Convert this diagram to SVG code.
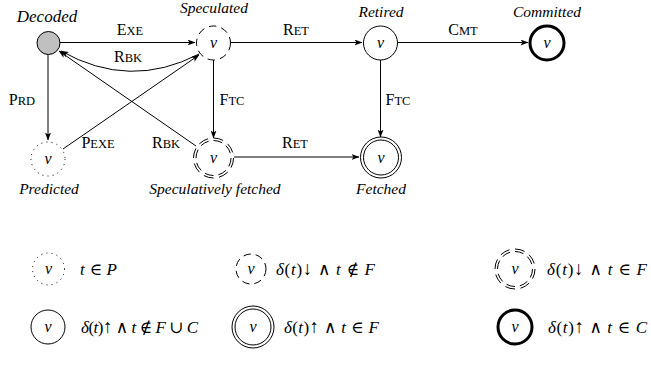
<svg xmlns="http://www.w3.org/2000/svg" width="651" height="366" viewBox="0 0 651 366">
  <style>
    text { font-family: "Liberation Serif", "DejaVu Serif", serif; }
    .node { fill: #fff; stroke: #000; stroke-width: 1; }
    .dashed { stroke-dasharray: 7.5 5; }
    .dotted { stroke-dasharray: 1 4.2; }
    .ddash { fill: none; stroke: #000; stroke-width: 1; stroke-dasharray: 8 4.5; }
    .thick { stroke-width: 3; }
    .edge { fill: none; stroke: #000; stroke-width: 1; }
    .v { font-style: italic; font-size: 16px; text-anchor: middle; }
    .name { font-style: italic; font-size: 15.5px; text-anchor: middle; }
    .lbl { font-size: 16px; text-anchor: middle; }
    .sc { font-size: 12.5px; }
    .math { font-size: 17px; }
    .it { font-style: italic; }
  </style>
  <defs>
    <marker id="arrow" viewBox="0 0 8 6" refX="7.5" refY="3" markerWidth="8" markerHeight="6" markerUnits="userSpaceOnUse" orient="auto">
      <path d="M0,0 L8,3 L0,6 L2,3 z" fill="#000"/>
    </marker>
  </defs>

  <!-- transitions -->
  <g id="edges">
    <line class="edge" x1="60" y1="42.5" x2="195" y2="42.5" marker-end="url(#arrow)"/>
    <path class="edge" d="M199,54 Q130,90 61,51" marker-end="url(#arrow)"/>
    <line class="edge" x1="231" y1="42.5" x2="362" y2="42.5" marker-end="url(#arrow)"/>
    <line class="edge" x1="398" y1="42.5" x2="528" y2="42.5" marker-end="url(#arrow)"/>
    <line class="edge" x1="48" y1="54" x2="48" y2="140" marker-end="url(#arrow)"/>
    <line class="edge" x1="213.5" y1="60" x2="213.5" y2="138" marker-end="url(#arrow)"/>
    <line class="edge" x1="380.5" y1="60" x2="380.5" y2="137" marker-end="url(#arrow)"/>
    <line class="edge" x1="63" y1="149" x2="199" y2="55" marker-end="url(#arrow)"/>
    <line class="edge" x1="196" y1="146" x2="59" y2="51" marker-end="url(#arrow)"/>
    <line class="edge" x1="234" y1="157" x2="359" y2="157" marker-end="url(#arrow)"/>

    <text class="lbl" x="130" y="35">E<tspan class="sc">XE</tspan></text>
    <text class="lbl" x="128" y="62">R<tspan class="sc">BK</tspan></text>
    <text class="lbl" x="296" y="35">R<tspan class="sc">ET</tspan></text>
    <text class="lbl" x="463" y="35">C<tspan class="sc">MT</tspan></text>
    <text class="lbl" x="22" y="105">P<tspan class="sc">RD</tspan></text>
    <text class="lbl" x="232" y="105">F<tspan class="sc">TC</tspan></text>
    <text class="lbl" x="398" y="105">F<tspan class="sc">TC</tspan></text>
    <text class="lbl" x="98" y="148">P<tspan class="sc">EXE</tspan></text>
    <text class="lbl" x="166" y="148">R<tspan class="sc">BK</tspan></text>
    <text class="lbl" x="295" y="148">R<tspan class="sc">ET</tspan></text>
  </g>

  <!-- states -->
  <g id="decoded">
    <circle cx="48.5" cy="43" r="11.5" fill="#c0c0c0" stroke="#000" stroke-width="1"/>
    <text class="name" x="47" y="22" style="font-size:17px">Decoded</text>
  </g>
  <g id="speculated">
    <circle class="node dashed" cx="213.5" cy="43" r="17"/>
    <text class="v" x="213.5" y="48">v</text>
    <text class="name" x="214" y="13">Speculated</text>
  </g>
  <g id="retired">
    <circle class="node" cx="380.5" cy="43" r="17"/>
    <text class="v" x="380.5" y="48">v</text>
    <text class="name" x="381" y="17">Retired</text>
  </g>
  <g id="committed">
    <circle class="node thick" cx="547" cy="43" r="17"/>
    <text class="v" x="547" y="48">v</text>
    <text class="name" x="547" y="17">Committed</text>
  </g>
  <g id="predicted">
    <circle class="node dotted" cx="48" cy="159" r="17"/>
    <text class="v" x="48" y="164">v</text>
    <text class="name" x="49" y="194">Predicted</text>
  </g>
  <g id="spec-fetched">
    <circle class="ddash" cx="213.5" cy="158" r="20" pathLength="100"/>
    <circle class="ddash" cx="213.5" cy="158" r="17.5" pathLength="100"/>
    <text class="v" x="213.5" y="163">v</text>
    <text class="name" x="215" y="194">Speculatively fetched</text>
  </g>
  <g id="fetched">
    <circle class="node" cx="381" cy="157.5" r="20.5"/>
    <circle class="node" cx="381" cy="157.5" r="17.5"/>
    <text class="v" x="381" y="162.5">v</text>
    <text class="name" x="381" y="194">Fetched</text>
  </g>

  <!-- legend -->
  <g id="legend-predicted">
    <circle class="node dotted" cx="48.5" cy="269" r="16"/>
    <text class="v" x="48.5" y="274">v</text>
    <text class="math" x="80" y="275" textLength="37" lengthAdjust="spacing"><tspan class="it">t</tspan> ∈ <tspan class="it">P</tspan></text>
  </g>
  <g id="legend-speculated">
    <circle class="node dashed" cx="251" cy="269" r="15"/>
    <text class="v" x="251" y="274">v</text>
    <text class="math" x="276" y="275" textLength="99" lengthAdjust="spacing"><tspan class="it">δ</tspan>(<tspan class="it">t</tspan>)<tspan font-size="19">↓</tspan> ∧ <tspan class="it">t</tspan> ∉ <tspan class="it">F</tspan></text>
  </g>
  <g id="legend-spec-fetched">
    <circle class="ddash" cx="515" cy="269" r="20" pathLength="100"/>
    <circle class="ddash" cx="515" cy="269" r="17.5" pathLength="100"/>
    <text class="v" x="515" y="274">v</text>
    <text class="math" x="547" y="275" textLength="100" lengthAdjust="spacing"><tspan class="it">δ</tspan>(<tspan class="it">t</tspan>)<tspan font-size="19">↓</tspan> ∧ <tspan class="it">t</tspan> ∈ <tspan class="it">F</tspan></text>
  </g>
  <g id="legend-retired">
    <circle class="node" cx="48" cy="327" r="17"/>
    <text class="v" x="48" y="332">v</text>
    <text class="math" x="81" y="333" textLength="117" lengthAdjust="spacing"><tspan class="it">δ</tspan>(<tspan class="it">t</tspan>)<tspan font-size="19">↑</tspan> ∧ <tspan class="it">t</tspan> ∉ <tspan class="it">F</tspan> ∪ <tspan class="it">C</tspan></text>
  </g>
  <g id="legend-fetched">
    <circle class="node" cx="253" cy="327" r="21"/>
    <circle class="node" cx="253" cy="327" r="18"/>
    <text class="v" x="253" y="332">v</text>
    <text class="math" x="284" y="333" textLength="95" lengthAdjust="spacing"><tspan class="it">δ</tspan>(<tspan class="it">t</tspan>)<tspan font-size="19">↑</tspan> ∧ <tspan class="it">t</tspan> ∈ <tspan class="it">F</tspan></text>
  </g>
  <g id="legend-committed">
    <circle class="node thick" cx="515" cy="327" r="17"/>
    <text class="v" x="515" y="332">v</text>
    <text class="math" x="548" y="333" textLength="99" lengthAdjust="spacing"><tspan class="it">δ</tspan>(<tspan class="it">t</tspan>)<tspan font-size="19">↑</tspan> ∧ <tspan class="it">t</tspan> ∈ <tspan class="it">C</tspan></text>
  </g>
</svg>
